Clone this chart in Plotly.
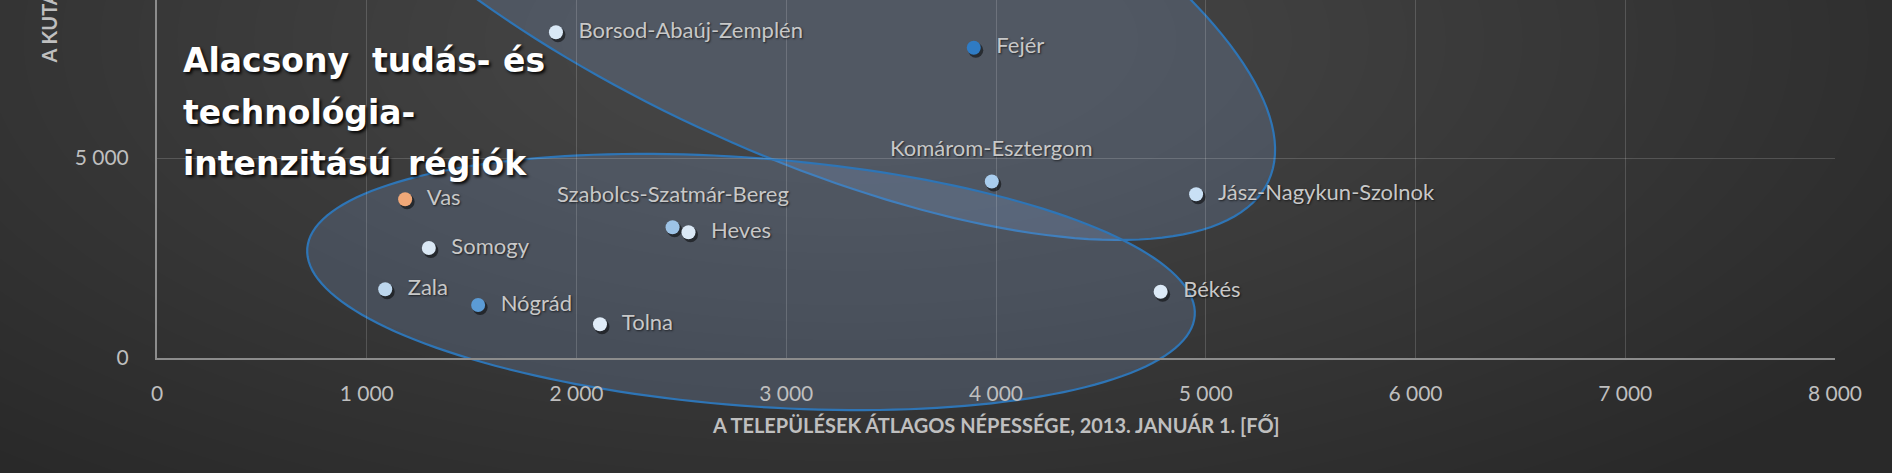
import numpy as np
import plotly.graph_objects as go

# ---------------- data ----------------
counties = ["Borsod-Abaúj-Zemplén", "Fejér", "Komárom-Esztergom", "Jász-Nagykun-Szolnok",
            "Szabolcs-Szatmár-Bereg", "Heves", "Vas", "Somogy", "Zala", "Nógrád",
            "Tolna", "Békés", "Bács-Kiskun"]
avg_population = [1902, 3894, 3980, 4954, 2458, 2534, 1183, 1296, 1088, 1531, 2112, 4785, 4368]
y_values = [8142, 7757, 4412, 4092, 3268, 3142, 3967, 2750, 1717, 1325, 842, 1658, 9025]
label_side = ["right", "right", "top", "right", "top", "right", "right", "right",
              "right", "right", "right", "right", "right"]
point_colors = ["#d9e8f6", "#2f7bc4", "#a9cdee", "#c9e0f5", "#9dc3e6", "#dae8f5",
                "#f0a878", "#dae8f5", "#bdd7ee", "#5b9bd5", "#e0ecf8", "#dceaf7", "#2a3a4c"]
x_ticks = [0, 1000, 2000, 3000, 4000, 5000, 6000, 7000, 8000]
y_ticks = [0, 5000, 10000]
x_title = "A TELEPÜLÉSEK ÁTLAGOS NÉPESSÉGE, 2013. JANUÁR 1. [FŐ]"
y_title = "A KUTATÁS-FEJLESZTÉSI RÁFORDÍTÁSOK, 2013. [MILLIÓ FT]"
group_title = [["Alacsony", "tudás-", "és"], ["technológia-"], ["intenzitású", "régiók"]]

# ---------------- geometry helpers (pixel layout) ----------------
W, H = 1892, 473
L, R, T, B = 157, 57, 0, 115
PW, PH = W - L - R, H - T - B
X_RANGE = [0, 8000]
Y_RANGE = [0, 8950]


def paper(px, py):
    return (px - L) / PW, (H - B - py) / PH


def ellipse_path(cx, cy, a, b, ang, n=180):
    t = np.linspace(0, 2 * np.pi, n, endpoint=False)
    th = np.radians(ang)
    xs = cx + a * np.cos(t) * np.cos(th) - b * np.sin(t) * np.sin(th)
    ys = cy + a * np.cos(t) * np.sin(th) + b * np.sin(t) * np.cos(th)
    pts = [paper(x, y) for x, y in zip(xs, ys)]
    return "M " + " L ".join(f"{x:.5f},{y:.5f}" for x, y in pts) + " Z"


fig = go.Figure()

idx_right = [i for i, s in enumerate(label_side) if s == "right"]
idx_top = [i for i, s in enumerate(label_side) if s == "top"]

# drop shadow of markers: same data on an overlay axis pair shifted ~2px right/down
sx = 2.0 / PW * (X_RANGE[1] - X_RANGE[0])
sy = 2.5 / PH * (Y_RANGE[1] - Y_RANGE[0])
fig.add_trace(go.Scatter(
    x=avg_population, y=y_values, mode="markers", xaxis="x2", yaxis="y2",
    marker=dict(size=15, color="rgba(0,0,0,0.5)", line=dict(width=0)),
    cliponaxis=False, showlegend=False, hoverinfo="skip"))

# markers and labels on a top overlay with the same ranges as the visible axes
fig.add_trace(go.Scatter(
    x=avg_population, y=y_values, mode="markers", xaxis="x3", yaxis="y3",
    marker=dict(size=14, color=point_colors, line=dict(width=0)),
    cliponaxis=False, showlegend=False, hoverinfo="skip"))

label_font = dict(family="Lato", size=22, color="#c8c8c8", shadow="1px 1px 2px rgba(0,0,0,0.6)")
fig.add_trace(go.Scatter(
    x=[avg_population[i] for i in idx_right], y=[y_values[i] for i in idx_right],
    mode="text", text=["    " + counties[i] for i in idx_right], textposition="middle right",
    textfont=label_font, xaxis="x3", yaxis="y3",
    cliponaxis=False, showlegend=False, hoverinfo="skip"))

shapes = []
# soft background light
n_layers = 26
for k in range(n_layers):
    f = 1 - k / n_layers
    shapes.append(dict(type="path", xref="paper", yref="paper", layer="below",
                       path=ellipse_path(850, 40, 250 + 1000 * f, 110 + 450 * f, 0),
                       fillcolor="rgba(255,255,255,0.006)", line=dict(width=0)))
# group ellipses
for cx, cy, a, b, ang in [(779, -47, 540, 192, 25), (751, 282, 445, 124, 4.33)]:
    shapes.append(dict(type="path", xref="paper", yref="paper", layer="below",
                       path=ellipse_path(cx, cy, a, b, ang),
                       fillcolor="rgba(130,165,215,0.22)",
                       line=dict(color="#2e75b6", width=2.2)))

annotations = []
for i in idx_top:
    annotations.append(dict(x=avg_population[i], y=y_values[i], xref="x", yref="y",
                            text=counties[i], showarrow=False, yshift=34,
                            xanchor="center", yanchor="middle", font=label_font))

# group title words (justified lines)
title_pos = [[(181, "left"), (370, "left"), (547, "right")],
             [(181, "left")],
             [(181, "left"), (529, "right")]]
line_y = [60, 112, 163]
for words, poss, ly in zip(group_title, title_pos, line_y):
    for w, (px, anc) in zip(words, poss):
        xp, yp = paper(px, ly)
        annotations.append(dict(x=xp, y=yp, xref="paper", yref="paper", text=w,
                                showarrow=False, xanchor=anc, yanchor="middle",
                                font=dict(family="DejaVu Sans", size=33, color="#ffffff",
                                          weight="bold",
                                          shadow="2px 2px 3px rgba(0,0,0,0.9)")))

xp, yp = paper(996, 425)
annotations.append(dict(x=xp, y=yp, xref="paper", yref="paper", text=x_title,
                        showarrow=False, xanchor="center", yanchor="middle",
                        font=dict(family="Lato", size=20, color="#bfbfbf", weight="bold")))
xp, yp = paper(48, 66)
annotations.append(dict(x=xp, y=yp, xref="paper", yref="paper", text=y_title,
                        showarrow=False, xanchor="center", yanchor="bottom", textangle=-90,
                        font=dict(family="Lato", size=20, color="#bfbfbf", weight="bold")))

tickfont = dict(family="Lato", size=21, color="#bfbfbf")
hidden = dict(visible=False, showgrid=False, zeroline=False)
fig.update_layout(
    width=W, height=H, margin=dict(l=L, r=R, t=T, b=B, pad=0),
    paper_bgcolor="#292929", plot_bgcolor="rgba(0,0,0,0)",
    separators=", ",
    shapes=shapes, annotations=annotations,
    xaxis=dict(range=X_RANGE, tickvals=x_ticks, tickformat=",d", showgrid=True,
               gridcolor="rgba(255,255,255,0.16)", gridwidth=1,
               showline=True, linecolor="#8c8c8c", linewidth=2, zeroline=False,
               ticks="", ticklabelstandoff=16, tickfont=tickfont),
    yaxis=dict(range=Y_RANGE, tickvals=y_ticks, tickformat=",d", showgrid=True,
               gridcolor="rgba(255,255,255,0.16)", gridwidth=1,
               showline=True, linecolor="#8c8c8c", linewidth=2, zeroline=False,
               ticks="", ticklabelstandoff=22, tickfont=tickfont),
    xaxis2=dict(range=[X_RANGE[0] - sx, X_RANGE[1] - sx], overlaying="x", **hidden),
    yaxis2=dict(range=[Y_RANGE[0] + sy, Y_RANGE[1] + sy], overlaying="y", **hidden),
    xaxis3=dict(range=X_RANGE, overlaying="x", **hidden),
    yaxis3=dict(range=Y_RANGE, overlaying="y", **hidden),
)

fig.write_html("out.html")
